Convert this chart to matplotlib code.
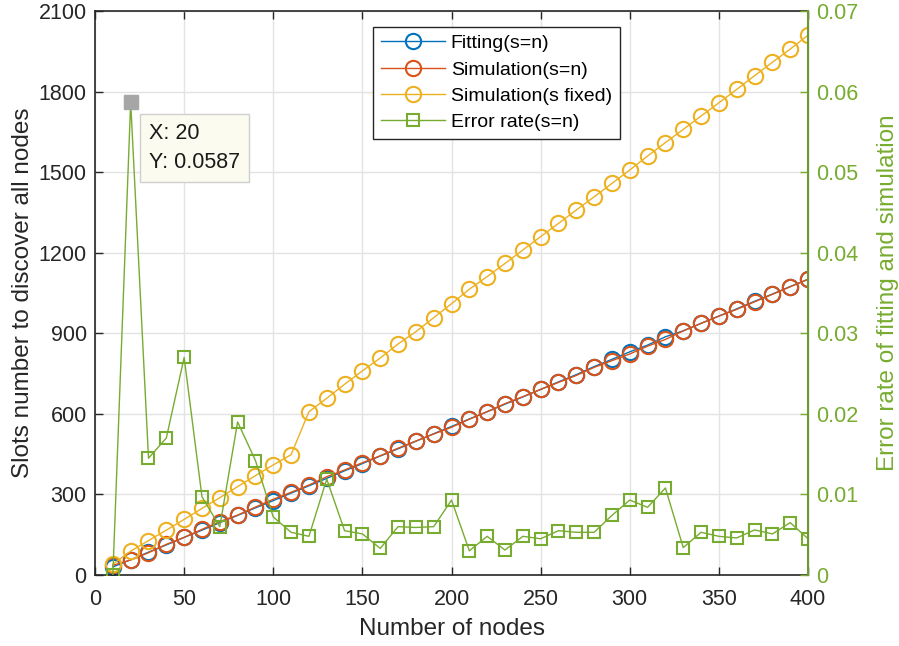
import matplotlib

matplotlib.use("Agg")
import matplotlib.pyplot as plt  # noqa: E402

plt.rcParams["font.family"] = ["Liberation Sans", "DejaVu Sans"]

# node counts on the x axis
nodes = list(range(10, 410, 10))

fitting = [30, 57, 85, 112, 140, 167, 195, 222, 250, 277,
           305, 332, 360, 388, 415, 443, 470, 498, 526, 553,
           581, 608, 636, 663, 691, 719, 746, 776, 803, 831,
           856, 887, 909, 937, 964, 991, 1019, 1046, 1074, 1101]
sim_sn = [36, 56, 83, 114, 140, 170, 199, 223, 253, 282,
          308, 335, 366, 391, 418, 444, 472, 499, 525, 550,
          580, 608, 638, 664, 691, 717, 743, 773, 798, 823,
          852, 877, 909, 937, 964, 989, 1017, 1045, 1073, 1101]
sim_fixed = [40, 89, 128, 167, 207, 248, 288, 329, 370, 410,
             448, 608, 658, 710, 760, 808, 860, 906, 958, 1010,
             1064, 1111, 1160, 1210, 1260, 1309, 1359, 1408, 1458, 1508,
             1560, 1610, 1659, 1709, 1758, 1808, 1859, 1909, 1958, 2010]
err_rate = [0.0000, 0.0587, 0.0145, 0.0170, 0.0270, 0.0097, 0.0060, 0.0190, 0.0142, 0.0072,
            0.0053, 0.0048, 0.0119, 0.0055, 0.0051, 0.0033, 0.0060, 0.0059, 0.0060, 0.0093,
            0.0030, 0.0048, 0.0031, 0.0048, 0.0045, 0.0055, 0.0053, 0.0053, 0.0074, 0.0093,
            0.0084, 0.0108, 0.0034, 0.0053, 0.0048, 0.0046, 0.0056, 0.0051, 0.0065, 0.0045]

tip_x, tip_y = 20, 0.0587

BLUE, RED, YELLOW, GREEN = "#0072BD", "#D95319", "#EDB120", "#77AC30"
AXC = "#262626"

fig = plt.figure(figsize=(8.99, 6.46), dpi=100)
ax = fig.add_axes([0.1057, 0.1099, 0.7931, 0.8731])
ax2 = ax.twinx()

mk = dict(markersize=11, markeredgewidth=1.5, markerfacecolor="none", linewidth=1.0)
h1, = ax.plot(nodes, fitting, "-o", color=BLUE, label="Fitting(s=n)", **mk)
h2, = ax.plot(nodes, sim_sn, "-o", color=RED, label="Simulation(s=n)", **mk)
h3, = ax.plot(nodes, sim_fixed, "-o", color=YELLOW, label="Simulation(s fixed)", **mk)
h4, = ax2.plot(nodes, err_rate, "-s", color=GREEN, label="Error rate(s=n)",
               markersize=9, markeredgewidth=1.5, markerfacecolor="none", linewidth=1.0)

# data tip
ax2.plot([tip_x], [tip_y], "s", color="#a6a6a6", markersize=10, zorder=5)
ax2.annotate(f"X: {tip_x}\nY: {tip_y}", xy=(tip_x, tip_y), xytext=(13, -15),
             textcoords="offset points", ha="left", va="top", fontsize=15.5,
             color="#1a1a1a", linespacing=1.5, zorder=6,
             bbox=dict(boxstyle="square,pad=0.42", fc="#fbfbef", ec="#cfcfcf", lw=1))

ax.set_xlim(0, 400)
ax.set_ylim(0, 2100)
ax.set_xticks(range(0, 401, 50))
ax.set_yticks(range(0, 2101, 300))
ax2.set_ylim(0, 0.07)
ax2.set_yticks([0, 0.01, 0.02, 0.03, 0.04, 0.05, 0.06, 0.07])
ax2.set_yticklabels(["0", "0.01", "0.02", "0.03", "0.04", "0.05", "0.06", "0.07"])

ax.grid(True, color="#e3e3e3", linewidth=1.0)
ax.set_axisbelow(True)

ax.tick_params(axis="both", direction="in", length=6, width=1, labelsize=15.5,
               colors=AXC, top=True, right=False, pad=6)
ax.tick_params(axis="x", pad=10)
ax2.tick_params(axis="y", direction="in", length=6, width=1, labelsize=15.5,
                colors=GREEN, pad=6)
for s in ("left", "bottom", "top"):
    ax.spines[s].set_color(AXC)
    ax.spines[s].set_linewidth(1.2)
ax2.spines["right"].set_color("#6B9A34")
ax2.spines["right"].set_linewidth(1.5)
for s in ("left", "bottom", "top"):
    ax2.spines[s].set_visible(False)

ax.set_xlabel("Number of nodes", fontsize=17.5, color=AXC, labelpad=6)
ax.set_ylabel("Slots number to discover all nodes", fontsize=17.5, color=AXC, labelpad=3)
ax2.set_ylabel("Error rate of fitting and simulation", fontsize=17.5, color=GREEN, labelpad=13)

leg = ax2.legend(handles=[h1, h2, h3, h4], loc="upper left", bbox_to_anchor=(0.39, 0.972),
                 borderaxespad=0, fontsize=14, fancybox=False, framealpha=1,
                 edgecolor=AXC, handlelength=3.3, handletextpad=0.3,
                 labelspacing=0.45, borderpad=0.4)
leg.get_frame().set_linewidth(1.0)

fig.savefig("out.png", dpi=100)
